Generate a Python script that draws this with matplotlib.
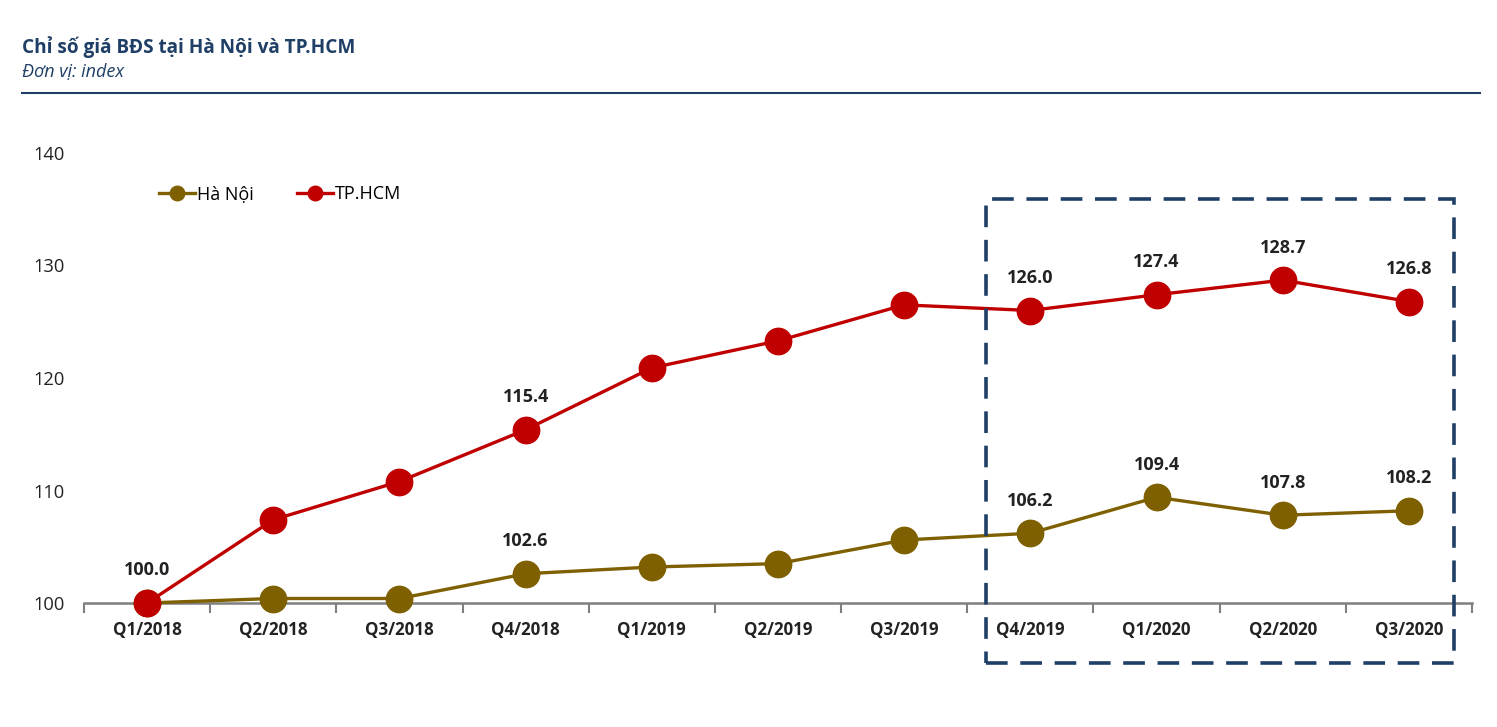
import matplotlib.pyplot as plt
from matplotlib.patches import Rectangle

plt.rcParams['font.family'] = ['Open Sans', 'DejaVu Sans']

quarters = ['Q1/2018', 'Q2/2018', 'Q3/2018', 'Q4/2018', 'Q1/2019', 'Q2/2019',
            'Q3/2019', 'Q4/2019', 'Q1/2020', 'Q2/2020', 'Q3/2020']
ha_noi = [100.0, 100.4, 100.4, 102.6, 103.2, 103.5, 105.6, 106.2, 109.4, 107.8, 108.2]
tp_hcm = [100.0, 107.4, 110.8, 115.4, 120.9, 123.3, 126.5, 126.0, 127.4, 128.7, 126.8]
# which points carry a value label
hn_labels = [3, 7, 8, 9, 10]
hcm_labels = [0, 3, 7, 8, 9, 10]

navy = '#1f3f66'
red = '#c00000'
olive = '#7f6000'

fig = plt.figure(figsize=(14.97, 7.27), dpi=100)
ax = fig.add_axes([84 / 1497, 1 - 603 / 727, (1472 - 84) / 1497, (603 - 153) / 727])

x = list(range(len(quarters)))
ax.plot(x, ha_noi, color=olive, lw=2.4, marker='o', ms=19, label='Hà Nội', clip_on=False, zorder=3)
ax.plot(x, tp_hcm, color=red, lw=2.4, marker='o', ms=19, label='TP.HCM', clip_on=False, zorder=4)

for i in hn_labels:
    ax.annotate(f'{ha_noi[i]:.1f}', (i, ha_noi[i]), xytext=(0, 17), textcoords='offset points',
                ha='center', va='bottom', fontsize=13, fontweight='bold', color='#222222')
for i in hcm_labels:
    ax.annotate(f'{tp_hcm[i]:.1f}', (i, tp_hcm[i]), xytext=(0, 17), textcoords='offset points',
                ha='center', va='bottom', fontsize=13, fontweight='bold', color='#222222')

ax.set_xlim(-0.5, len(quarters) - 0.5)
ax.set_ylim(100, 140)
ax.set_yticks([100, 110, 120, 130, 140])
ax.set_xticks(x)
ax.set_xticklabels(quarters, fontsize=12.2, fontweight='bold', color='#222222')
ax.set_xticks([i - 0.5 for i in range(len(quarters) + 1)], minor=True)
ax.tick_params(axis='x', which='major', length=0, pad=13)
ax.tick_params(axis='x', which='minor', length=7, width=1.5, color='#7f7f7f', direction='out')
ax.tick_params(axis='y', length=0, labelsize=13.2, pad=14, labelcolor='#222222')
for s in ['top', 'right', 'left']:
    ax.spines[s].set_visible(False)
ax.spines['bottom'].set_color('#7f7f7f')
ax.spines['bottom'].set_linewidth(1.8)
ax.spines['bottom'].set_zorder(2)

leg = ax.legend(loc='upper left', bbox_to_anchor=(0.0425, 0.965), ncol=2, frameon=False,
                fontsize=13, handlelength=2.0, handletextpad=0.1, columnspacing=2.4,
                markerscale=0.55)

# highlight box around the last four quarters
box = Rectangle((6.65, 94.7), 3.71, 41.2, fill=False, edgecolor=navy, lw=2.6,
                linestyle=(0, (6, 3.5)), clip_on=False, zorder=5)
ax.add_patch(box)

fig.text(22 / 1497, 1 - 47 / 727, 'Chỉ số giá BĐS tại Hà Nội và TP.HCM', fontsize=13.7,
         fontweight='bold', color=navy, va='center')
fig.text(22 / 1497, 1 - 72 / 727, 'Đơn vị: index', fontsize=13, style='italic',
         color=navy, va='center')
fig.add_artist(plt.Line2D([22 / 1497, 1480 / 1497], [1 - 93 / 727, 1 - 93 / 727],
                          color=navy, lw=1.5))

fig.savefig('out.png', dpi=100)
